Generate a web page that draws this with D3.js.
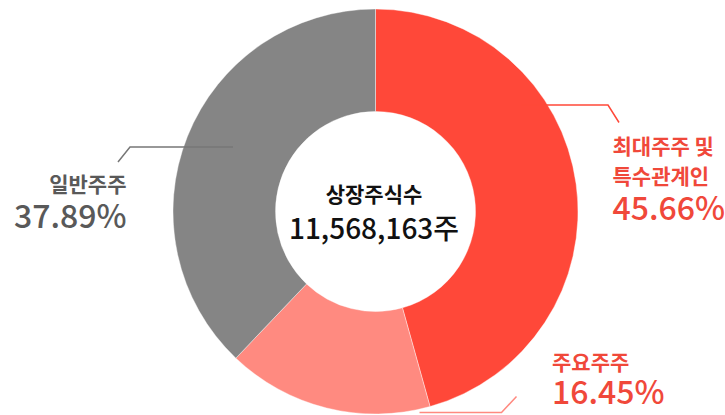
<!DOCTYPE html>
<html>
<head>
<meta charset="utf-8">
<script src="https://cdn.jsdelivr.net/npm/d3@7"></script>
<style>
  html, body { margin: 0; padding: 0; background: #fff; }
  svg text { font-family: "Noto Sans CJK KR", "Noto Sans", sans-serif; }
</style>
</head>
<body>
<svg id="chart" width="725" height="415"></svg>
<script>
// shareholder breakdown
const groups = ["최대주주 및 특수관계인", "주요주주", "일반주주"];
const shares = [45.66, 16.45, 37.89];
const labelLines = [["최대주주 및", "특수관계인"], ["주요주주"], ["일반주주"]];
const pctLabels = ["45.66%", "16.45%", "37.89%"];
const centerTitle = "상장주식수";
const centerValue = "11,568,163주";

const sliceColors = ["#ff4839", "#ff8a80", "#858585"];
const textColors = ["#f0483a", "#f0483a", "#595959"];

// label layout (relative to chart center)
const labelLayout = [
  { x: 237, y: -58, anchor: "start", lh: 30, pctY: 8.5,
    leader: [[146, -106.5], [232.5, -106.5], [243.5, -89]] },
  { x: 176.5, y: 158.5, anchor: "start", lh: 30, pctY: 192.5,
    leader: [[44, 201], [126, 201], [141, 185]] },
  { x: -249, y: -19.5, anchor: "end", lh: 30, pctY: 16.5,
    leader: [[-142.5, -64.5], [-245.5, -64.5], [-257.5, -49.5]] }
];

const width = 725, height = 415;
const cx = 375.5, cy = 211.5;
const outerR = 202.5, innerR = 100;

const svg = d3.select("#chart");
const g = svg.append("g").attr("transform", `translate(${cx},${cy})`);

const pie = d3.pie().sort(null).value(d => d)
  .startAngle(0).endAngle(2 * Math.PI);
const arc = d3.arc().innerRadius(innerR).outerRadius(outerR);

g.selectAll("path.slice")
  .data(pie(shares))
  .join("path")
  .attr("class", "slice")
  .attr("d", arc)
  .attr("fill", (d, i) => sliceColors[i])
  .attr("stroke", "#fff")
  .attr("stroke-width", 0.4);

// leader lines
const line = d3.line();
g.selectAll("path.leader")
  .data(labelLayout)
  .join("path")
  .attr("class", "leader")
  .attr("d", d => line(d.leader))
  .attr("fill", "none")
  .attr("stroke", (d, i) => i === 2 ? "#777" : sliceColors[i])
  .attr("stroke-width", 1.5);

// labels
labelLayout.forEach((lay, i) => {
  const t = g.append("text")
    .attr("text-anchor", lay.anchor)
    .attr("fill", textColors[i])
    .attr("font-size", 21)
    .attr("font-weight", 700);
  labelLines[i].forEach((s, j) => {
    t.append("tspan")
      .attr("x", lay.x)
      .attr("y", lay.y + j * lay.lh)
      .text(s);
  });
  g.append("text")
    .attr("x", lay.x)
    .attr("y", lay.pctY)
    .attr("text-anchor", lay.anchor)
    .attr("fill", textColors[i])
    .attr("font-size", 32)
    .attr("font-weight", 500)
    .text(pctLabels[i]);
});

// center text
g.append("text")
  .attr("x", -1.5)
  .attr("y", -9.5)
  .attr("text-anchor", "middle")
  .attr("fill", "#111")
  .attr("font-size", 21)
  .attr("font-weight", 700)
  .text(centerTitle);

g.append("text")
  .attr("x", -1.5)
  .attr("y", 27.5)
  .attr("text-anchor", "middle")
  .attr("fill", "#111")
  .attr("font-size", 28)
  .attr("font-weight", 500)
  .text(centerValue);
</script>
</body>
</html>
